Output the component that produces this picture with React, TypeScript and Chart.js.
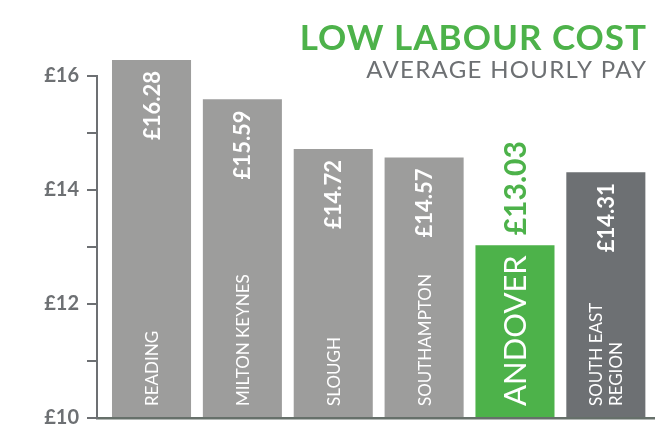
import React, { useEffect, useRef } from "react";
import { Chart, registerables } from "chart.js";

Chart.register(...registerables);

const categories: string[][] = [
  ["READING"],
  ["MILTON KEYNES"],
  ["SLOUGH"],
  ["SOUTHAMPTON"],
  ["ANDOVER"],
  ["SOUTH EAST", "REGION"],
];
const payValues: number[] = [16.28, 15.59, 14.72, 14.57, 13.03, 14.31];
const valueLabels: string[] = ["£16.28", "£15.59", "£14.72", "£14.57", "£13.03", "£14.31"];
const barColors: string[] = ["#9d9d9c", "#9d9d9c", "#9d9d9c", "#9d9d9c", "#4db24a", "#6d7073"];
const highlightIndex = 4;
const yTicks: number[] = [10, 11, 12, 13, 14, 15, 16];
const titleText = "LOW LABOUR COST";
const subtitleText = "AVERAGE HOURLY PAY";

const GREEN = "#4db24a";
const AXIS_GREY = "#6d7073";
const FONT = "Lato, 'Open Sans', sans-serif";

const labelPlugin = {
  id: "barLabels",
  afterDatasetsDraw(chart: any) {
    const ctx = chart.ctx as CanvasRenderingContext2D;
    const meta = chart.getDatasetMeta(0);
    meta.data.forEach((bar: any, i: number) => {
      const { x, y, base } = bar.getProps(["x", "y", "base"], true);
      const hi = i === highlightIndex;
      // value label
      ctx.save();
      ctx.fillStyle = hi ? GREEN : "#ffffff";
      ctx.font = hi ? `bold 30px ${FONT}` : `bold 22px ${FONT}`;
      ctx.textBaseline = "middle";
      if (hi) {
        ctx.translate(x + 1, y - 10);
        ctx.rotate(-Math.PI / 2);
        ctx.textAlign = "left";
      } else {
        ctx.translate(x + 1, y + 11);
        ctx.rotate(-Math.PI / 2);
        ctx.textAlign = "right";
      }
      ctx.fillText(valueLabels[i], 0, 0);
      ctx.restore();
      // category label
      const lines = categories[i];
      ctx.save();
      ctx.fillStyle = "#ffffff";
      ctx.font = hi ? `31px ${FONT}` : `17px ${FONT}`;
      ctx.textBaseline = "middle";
      ctx.textAlign = "left";
      ctx.translate(x + 1, base - 11);
      ctx.rotate(-Math.PI / 2);
      const lh = 20;
      lines.forEach((ln, k) => {
        const off = (k - (lines.length - 1) / 2) * lh;
        ctx.fillText(ln, 0, off);
      });
      ctx.restore();
    });
  },
  afterDraw(chart: any) {
    const ctx = chart.ctx as CanvasRenderingContext2D;
    const right = chart.chartArea.right - 8;
    ctx.save();
    ctx.textAlign = "right";
    ctx.textBaseline = "alphabetic";
    ctx.fillStyle = GREEN;
    ctx.font = `bold 35px ${FONT}`;
    (ctx as any).letterSpacing = "1px";
    ctx.fillText(titleText, right + 1, 50);
    ctx.fillStyle = AXIS_GREY;
    ctx.font = `24px ${FONT}`;
    (ctx as any).letterSpacing = "1.3px";
    ctx.fillText(subtitleText, right + 1.3, 78);
    ctx.restore();
  },
};

export default function App() {
  const ref = useRef<HTMLCanvasElement>(null);
  useEffect(() => {
    if (!ref.current) return;
    const chart = new Chart(ref.current, {
      type: "bar",
      data: {
        datasets: [
          {
            data: categories.map((_, i) => ({ x: i, y: payValues[i] })),
            backgroundColor: barColors,
            borderWidth: 0,
            barPercentage: 0.87,
            categoryPercentage: 1,
            base: 10,
            clip: false as any,
          },
        ],
      },
      options: {
        responsive: false,
        animation: false,
        layout: { padding: { left: 0, top: 76, right: 13, bottom: 18 } },
        plugins: {
          legend: { display: false },
          tooltip: { enabled: false },
          title: { display: false },
        },
        scales: {
          x: {
            type: "linear",
            offset: false,
            min: -0.6,
            max: 5.53,
            afterBuildTicks(scale: any) {
              scale.ticks = categories.map((_, i) => ({ value: i }));
            },
            grid: { display: false },
            ticks: { display: false },
            border: { display: true, color: "#66706a", width: 2.5 },
            afterFit(scale: any) {
              scale.height = 0;
            },
          },
          y: {
            min: 10,
            max: 16,
            afterBuildTicks(scale: any) {
              scale.ticks = yTicks.map((v) => ({ value: v }));
            },
            afterFit(scale: any) {
              scale.width = 97;
            },
            grid: {
              display: true,
              drawOnChartArea: false,
              drawTicks: true,
              tickLength: 10,
              color: AXIS_GREY,
              lineWidth: 2,
            },
            border: { display: true, color: AXIS_GREY, width: 2 },
            ticks: {
              padding: 8,
              color: AXIS_GREY,
              font: { family: FONT, size: 20, weight: "bold" },
              callback: (v: any) => (Number(v) % 2 === 0 ? "£" + v : ""),
            },
          },
        },
      },
      plugins: [labelPlugin],
    });
    return () => chart.destroy();
  }, []);
  return (
    <div style={{ position: "absolute", left: 0, top: 0, width: 667, height: 438, background: "#fff" }}>
      <canvas ref={ref} width={667} height={438} style={{ display: "block" }} />
    </div>
  );
}
